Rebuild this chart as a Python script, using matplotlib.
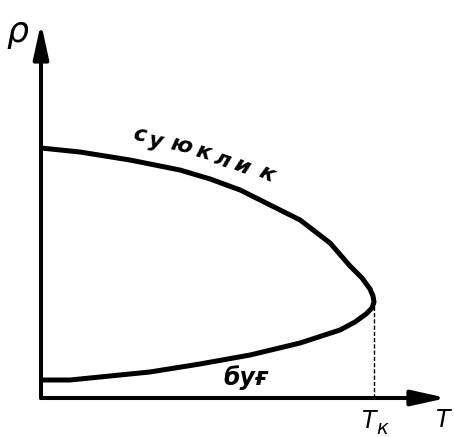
import matplotlib
matplotlib.use('Agg')
import matplotlib.pyplot as plt

# liquid branch: temperature (T/Tk) and density (relative)
t_liquid = [0.0, 0.117, 0.267, 0.417, 0.508, 0.598, 0.688, 0.778, 0.868, 0.928,
            0.964, 0.988, 0.997, 1.0]
rho_liquid = [1.0, 0.984, 0.952, 0.912, 0.876, 0.832, 0.772, 0.712, 0.620, 0.528,
              0.480, 0.436, 0.408, 0.384]

# vapour branch
t_vapor = [1.0, 0.994, 0.976, 0.943, 0.898, 0.778, 0.628, 0.477, 0.327, 0.177, 0.087, 0.0]
rho_vapor = [0.384, 0.360, 0.336, 0.304, 0.272, 0.220, 0.172, 0.136, 0.104, 0.084, 0.072, 0.072]

t_crit = 1.0
rho_crit = 0.384

W, H = 454, 437

def fx(x):
    return x / W

def fy(y):
    return 1 - y / H

fig = plt.figure(figsize=(W / 100, H / 100), dpi=100)
fig.patch.set_facecolor('white')

# origin at pixel (41, 398), arrows end at x=447, y=23
ax = fig.add_axes([fx(41), fy(398), (447 - 41) / W, (398 - 23) / H])
ax.set_xlim(0, (447 - 41) / 333)
ax.set_ylim(0, (398 - 23) / 250)
ax.axis('off')

# axes with arrows
arrow = dict(arrowstyle='-|>,head_length=1.05,head_width=0.23', color='black',
             lw=2.9, shrinkA=0, shrinkB=0, mutation_scale=20)
ax.annotate('', xy=(1, 0), xytext=(0, 0), xycoords='axes fraction',
            arrowprops=arrow, annotation_clip=False)
ax.annotate('', xy=(0, 1), xytext=(0, 0), xycoords='axes fraction',
            arrowprops=arrow, annotation_clip=False)

# coexistence curve
ax.plot(t_liquid + t_vapor[1:], rho_liquid + rho_vapor[1:], color='black', lw=3.6,
        solid_joinstyle='round', solid_capstyle='butt', clip_on=False)

# dashed line at Tk
ax.plot([t_crit, t_crit], [0, rho_crit], color='black', lw=1.0,
        linestyle=(0, (3, 1.5)), clip_on=False)

font = dict(family='DejaVu Sans', style='italic', color='black')

fig.text(fx(17), fy(32), 'ρ', fontsize=25, ha='center', va='center', **font)
fig.text(fx(369), fy(421), 'T', fontsize=17, ha='center', va='center', **font)
fig.text(fx(382), fy(429), 'к', fontsize=14, ha='center', va='center', **font)
fig.text(fx(443), fy(420), 'T', fontsize=17, ha='center', va='center', **font)

# label along liquid branch
letters = [('с', 140, 135, -8), ('у', 156, 141, -10), ('ю', 181, 146, -13),
           ('к', 203, 152, -16), ('л', 223, 160, -19), ('и', 242, 166, -22),
           ('к', 267, 174, -25)]
for ch, x, y, r in letters:
    fig.text(fx(x), fy(y), ch, fontsize=16, fontweight='bold', rotation=r,
             ha='center', va='center', **font)

fig.text(fx(246), fy(378), 'буғ', fontsize=17, fontweight='bold',
         ha='center', va='center', **font)

fig.savefig('out.png', dpi=100, facecolor='white')
